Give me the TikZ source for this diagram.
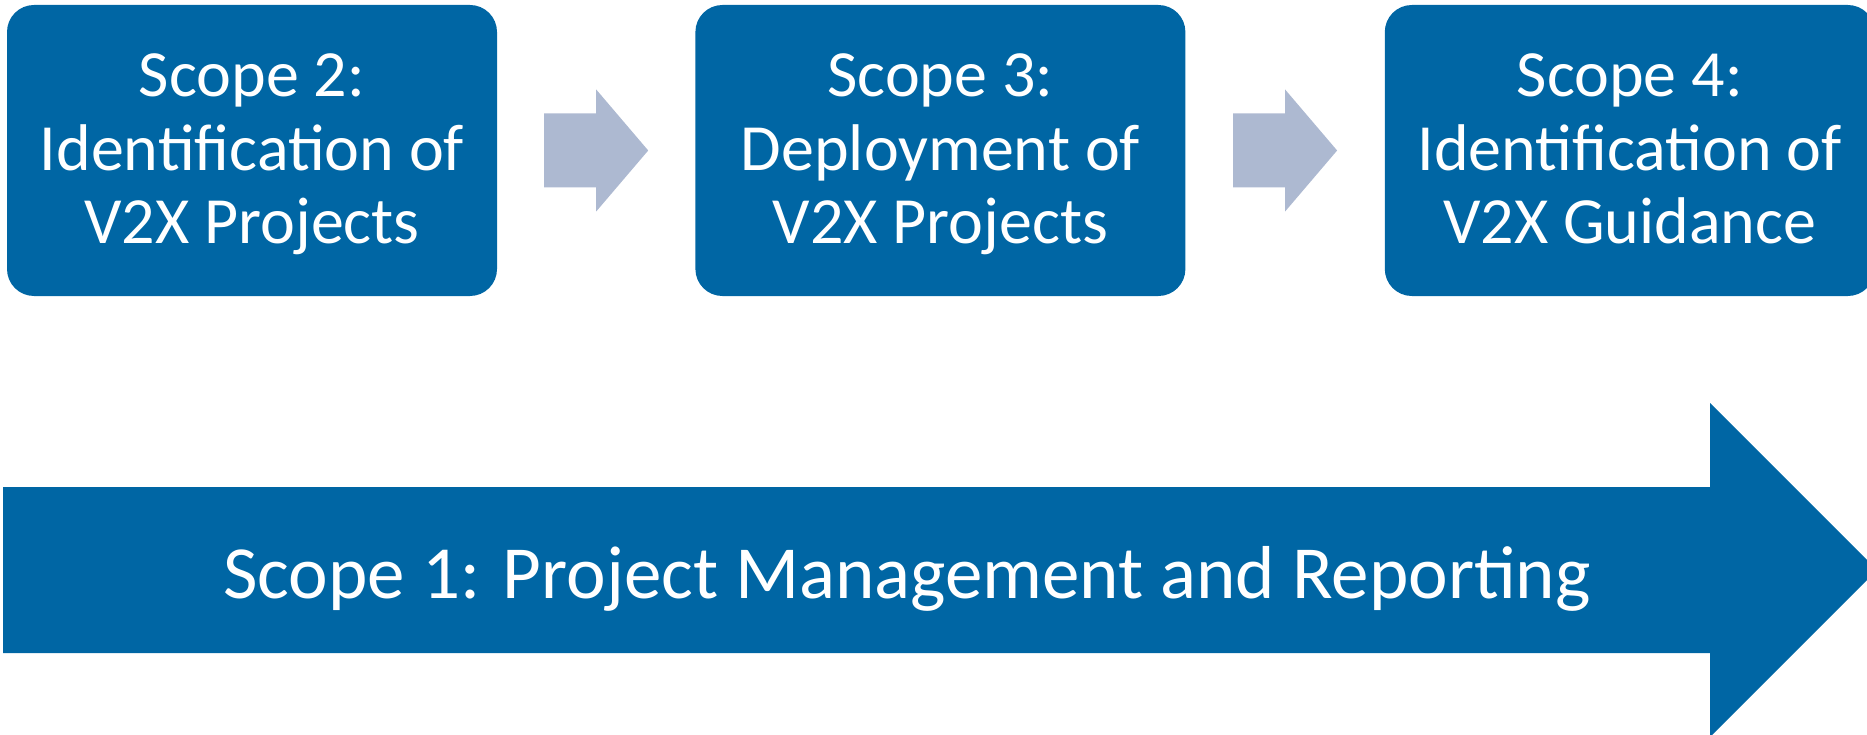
\documentclass[tikz,border=0pt]{standalone}
\usepackage{fontspec}
\setmainfont{Carlito}
\usepackage{tikz}
\usetikzlibrary{positioning, calc}
\definecolor{scopeblue}{RGB}{0,102,164}
\definecolor{flowgrey}{RGB}{173,185,209}

\newcommand{\toplift}{\rule{0pt}{62pt}}

\tikzset{
  scopebox/.style={rectangle, rounded corners=27pt, fill=scopeblue, text=white,
    minimum width=490pt, minimum height=291pt, inner sep=0pt, align=center,
    font=\fontsize{66}{73.5}\selectfont},
  flowarrow/.style={fill=flowgrey},
}

\begin{document}
\begin{tikzpicture}[x=1pt, y=1pt]
            \useasboundingbox (0,0) rectangle (1867,-735);
            \clip (0,0) rectangle (1867,-735);

            \node[scopebox] (s2) at (252,-150.5) {\toplift Scope 2:\\Identification of\\V2X Projects\strut};
            \node[scopebox, right=198pt of s2] (s3) {\toplift Scope 3:\\Deployment of\\V2X Projects\strut};
            \node[scopebox, right=199pt of s3] (s4) {\toplift Scope 4:\\Identification of\\V2X Guidance\strut};

            \foreach \a/\b in {s2/s3, s3/s4}
            {
            \path ($(\a.east)!0.5!(\b.west)$) coordinate (m);
            \fill[flowarrow] (m) ++(-52,37) -- ++(52,0) -- ++(0,24) -- ++(52,-61)
                -- ++(-52,-61) -- ++(0,24) -- ++(-52,0) -- cycle;
            }

            \fill[scopeblue] (3,-487) -- (1710,-487) -- (1710,-403) -- (1877,-570)
                -- (1710,-737) -- (1710,-653) -- (3,-653) -- cycle;
            \node[anchor=base, text=white, inner sep=0pt, font=\fontsize{75}{80}\selectfont]
                (s1) at (907,-598) {Scope 1: Project Management and Reporting};
        \end{tikzpicture}
\end{document}
